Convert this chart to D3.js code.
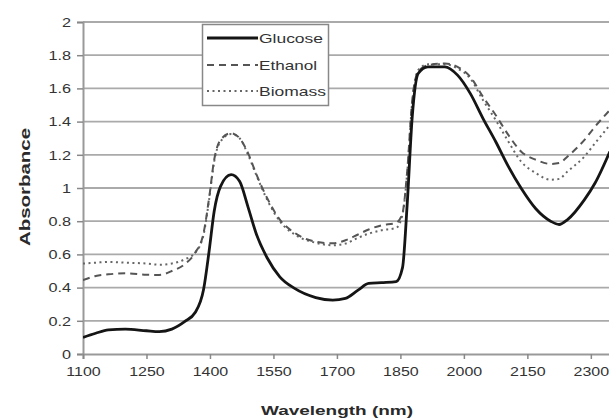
<!DOCTYPE html>
<html>
<head>
<meta charset="utf-8">
<script src="https://cdn.jsdelivr.net/npm/d3@7"></script>
<style>
  html, body { margin: 0; padding: 0; background: #fff; }
  svg { display: block; font-family: "Liberation Sans", Arial, sans-serif; }
</style>
</head>
<body>
<svg id="chart" width="609" height="419"></svg>
<script>
// ---- data ----
const wavelengths = [1100,1130,1160,1200,1250,1280,1310,1340,1365,1385,1398,1410,1425,1450,1470,1490,1510,1535,1565,1600,1650,1690,1720,1750,1775,1805,1840,1855,1866,1878,1892,1915,1955,1985,2015,2045,2075,2105,2135,2170,2205,2225,2245,2285,2310,2345];
const glucose = [0.10,0.125,0.145,0.15,0.14,0.135,0.15,0.195,0.25,0.39,0.62,0.86,1.01,1.08,1.04,0.885,0.72,0.58,0.465,0.395,0.34,0.325,0.335,0.385,0.425,0.43,0.436,0.52,0.90,1.43,1.69,1.73,1.73,1.68,1.57,1.42,1.28,1.13,1.0,0.875,0.80,0.78,0.81,0.93,1.03,1.22];
const ethanol = [0.445,0.47,0.48,0.486,0.478,0.476,0.50,0.54,0.61,0.73,0.94,1.17,1.29,1.33,1.30,1.21,1.08,0.94,0.81,0.73,0.677,0.667,0.685,0.72,0.75,0.775,0.79,0.85,1.10,1.53,1.70,1.74,1.75,1.73,1.67,1.55,1.44,1.32,1.22,1.17,1.145,1.15,1.19,1.29,1.37,1.47];
const biomass = [0.545,0.55,0.555,0.55,0.545,0.538,0.545,0.57,0.61,0.72,0.93,1.16,1.28,1.325,1.30,1.20,1.075,0.93,0.80,0.72,0.67,0.655,0.665,0.70,0.725,0.745,0.76,0.84,1.09,1.52,1.71,1.745,1.745,1.72,1.66,1.53,1.41,1.28,1.16,1.09,1.05,1.055,1.10,1.19,1.27,1.38];
const seriesNames = ["Glucose","Ethanol","Biomass"];
const xTicks = [1100,1250,1400,1550,1700,1850,2000,2150,2300];
const yTicks = [0,0.2,0.4,0.6,0.8,1,1.2,1.4,1.6,1.8,2];

// ---- layout ----
const svg = d3.select("#chart");
const mLeft = 83, mRight = 612, mTop = 22, mBottom = 354;
const x = d3.scaleLinear().domain([1100, 2350]).range([mLeft, mRight]);
const y = d3.scaleLinear().domain([0, 2]).range([mBottom, mTop]);

const styles = {
  Glucose: {stroke: "#151515", width: 2.8, dash: null},
  Ethanol: {stroke: "#555555", width: 2, dash: "7,5"},
  Biomass: {stroke: "#666666", width: 2, dash: "2,3.5"}
};

// clip
svg.append("defs").append("clipPath").attr("id","clip")
  .append("rect").attr("x", mLeft).attr("y", 0).attr("width", 609-mLeft).attr("height", mBottom+1);

// gridlines
svg.append("g").selectAll("line").data(yTicks.filter(d => d > 0)).join("line")
  .attr("x1", mLeft).attr("x2", 609)
  .attr("y1", d => y(d)).attr("y2", d => y(d))
  .attr("stroke", "#aaaaaa").attr("stroke-width", 1.8);

// y axis
const yAxis = svg.append("g").attr("transform", `translate(${mLeft},0)`)
  .call(d3.axisLeft(y).tickValues(yTicks).tickSize(6).tickPadding(6).tickFormat(d3.format("~g")));
yAxis.select(".domain").attr("stroke", "#999").attr("stroke-width", 2);
yAxis.selectAll(".tick line").attr("stroke", "#888").attr("stroke-width", 1.5);
yAxis.selectAll(".tick text")
  .attr("font-size", 12.5).attr("fill", "#333")
  .attr("x", 0).attr("dy", "0.35em")
  .attr("transform", "translate(-12,0) scale(1.3,1)");

// x axis
const xAxis = svg.append("g").attr("transform", `translate(0,${mBottom})`)
  .call(d3.axisBottom(x).tickValues(xTicks).tickSize(5).tickPadding(8).tickFormat(d3.format("d")));
xAxis.select(".domain").attr("stroke", "#999").attr("stroke-width", 2);
xAxis.selectAll(".tick line").attr("stroke", "#888").attr("stroke-width", 1.5);
xAxis.selectAll(".tick text")
  .attr("font-size", 12.5).attr("fill", "#333")
  .attr("transform", "scale(1.28,1)");

// lines
const seriesData = {Glucose: glucose, Ethanol: ethanol, Biomass: biomass};
const line = d3.line().x(d => x(d[0])).y(d => y(d[1])).curve(d3.curveMonotoneX);
const linesG = svg.append("g").attr("clip-path", "url(#clip)");
["Biomass","Ethanol","Glucose"].forEach(name => {
  const pts = wavelengths.map((w, i) => [w, seriesData[name][i]]);
  const s = styles[name];
  linesG.append("path").datum(pts)
    .attr("d", line).attr("fill", "none")
    .attr("stroke", s.stroke).attr("stroke-width", s.width)
    .attr("stroke-dasharray", s.dash)
    .attr("stroke-linejoin", "round");
});

// legend
const lg = svg.append("g");
lg.append("rect").attr("x", 202.5).attr("y", 24.5).attr("width", 126).attr("height", 81)
  .attr("fill", "#fff").attr("stroke", "#888").attr("stroke-width", 1.5);
const legendY = [38, 65, 91];
const legendW = [64, 58, 67];
seriesNames.forEach((name, i) => {
  const s = styles[name];
  lg.append("line").attr("x1", 207).attr("x2", 258)
    .attr("y1", legendY[i]).attr("y2", legendY[i])
    .attr("stroke", s.stroke).attr("stroke-width", s.width)
    .attr("stroke-dasharray", s.dash);
  lg.append("text").attr("x", 259).attr("y", legendY[i]).attr("dy", "0.35em")
    .attr("font-size", 13).attr("fill", "#333")
    .attr("textLength", legendW[i]).attr("lengthAdjust", "spacingAndGlyphs")
    .text(name);
});

// axis titles
svg.append("text").attr("x", 337).attr("y", 410).attr("dy", "0.35em")
  .attr("text-anchor", "middle").attr("font-size", 13).attr("font-weight", "bold")
  .attr("fill", "#2a2a2a").attr("textLength", 152).attr("lengthAdjust", "spacingAndGlyphs")
  .text("Wavelength (nm)");
svg.append("text").attr("transform", "translate(25,187) rotate(-90)").attr("dy", "0.35em")
  .attr("text-anchor", "middle").attr("font-size", 14).attr("font-weight", "bold")
  .attr("fill", "#2a2a2a").attr("textLength", 118).attr("lengthAdjust", "spacingAndGlyphs")
  .text("Absorbance");
</script>
</body>
</html>
